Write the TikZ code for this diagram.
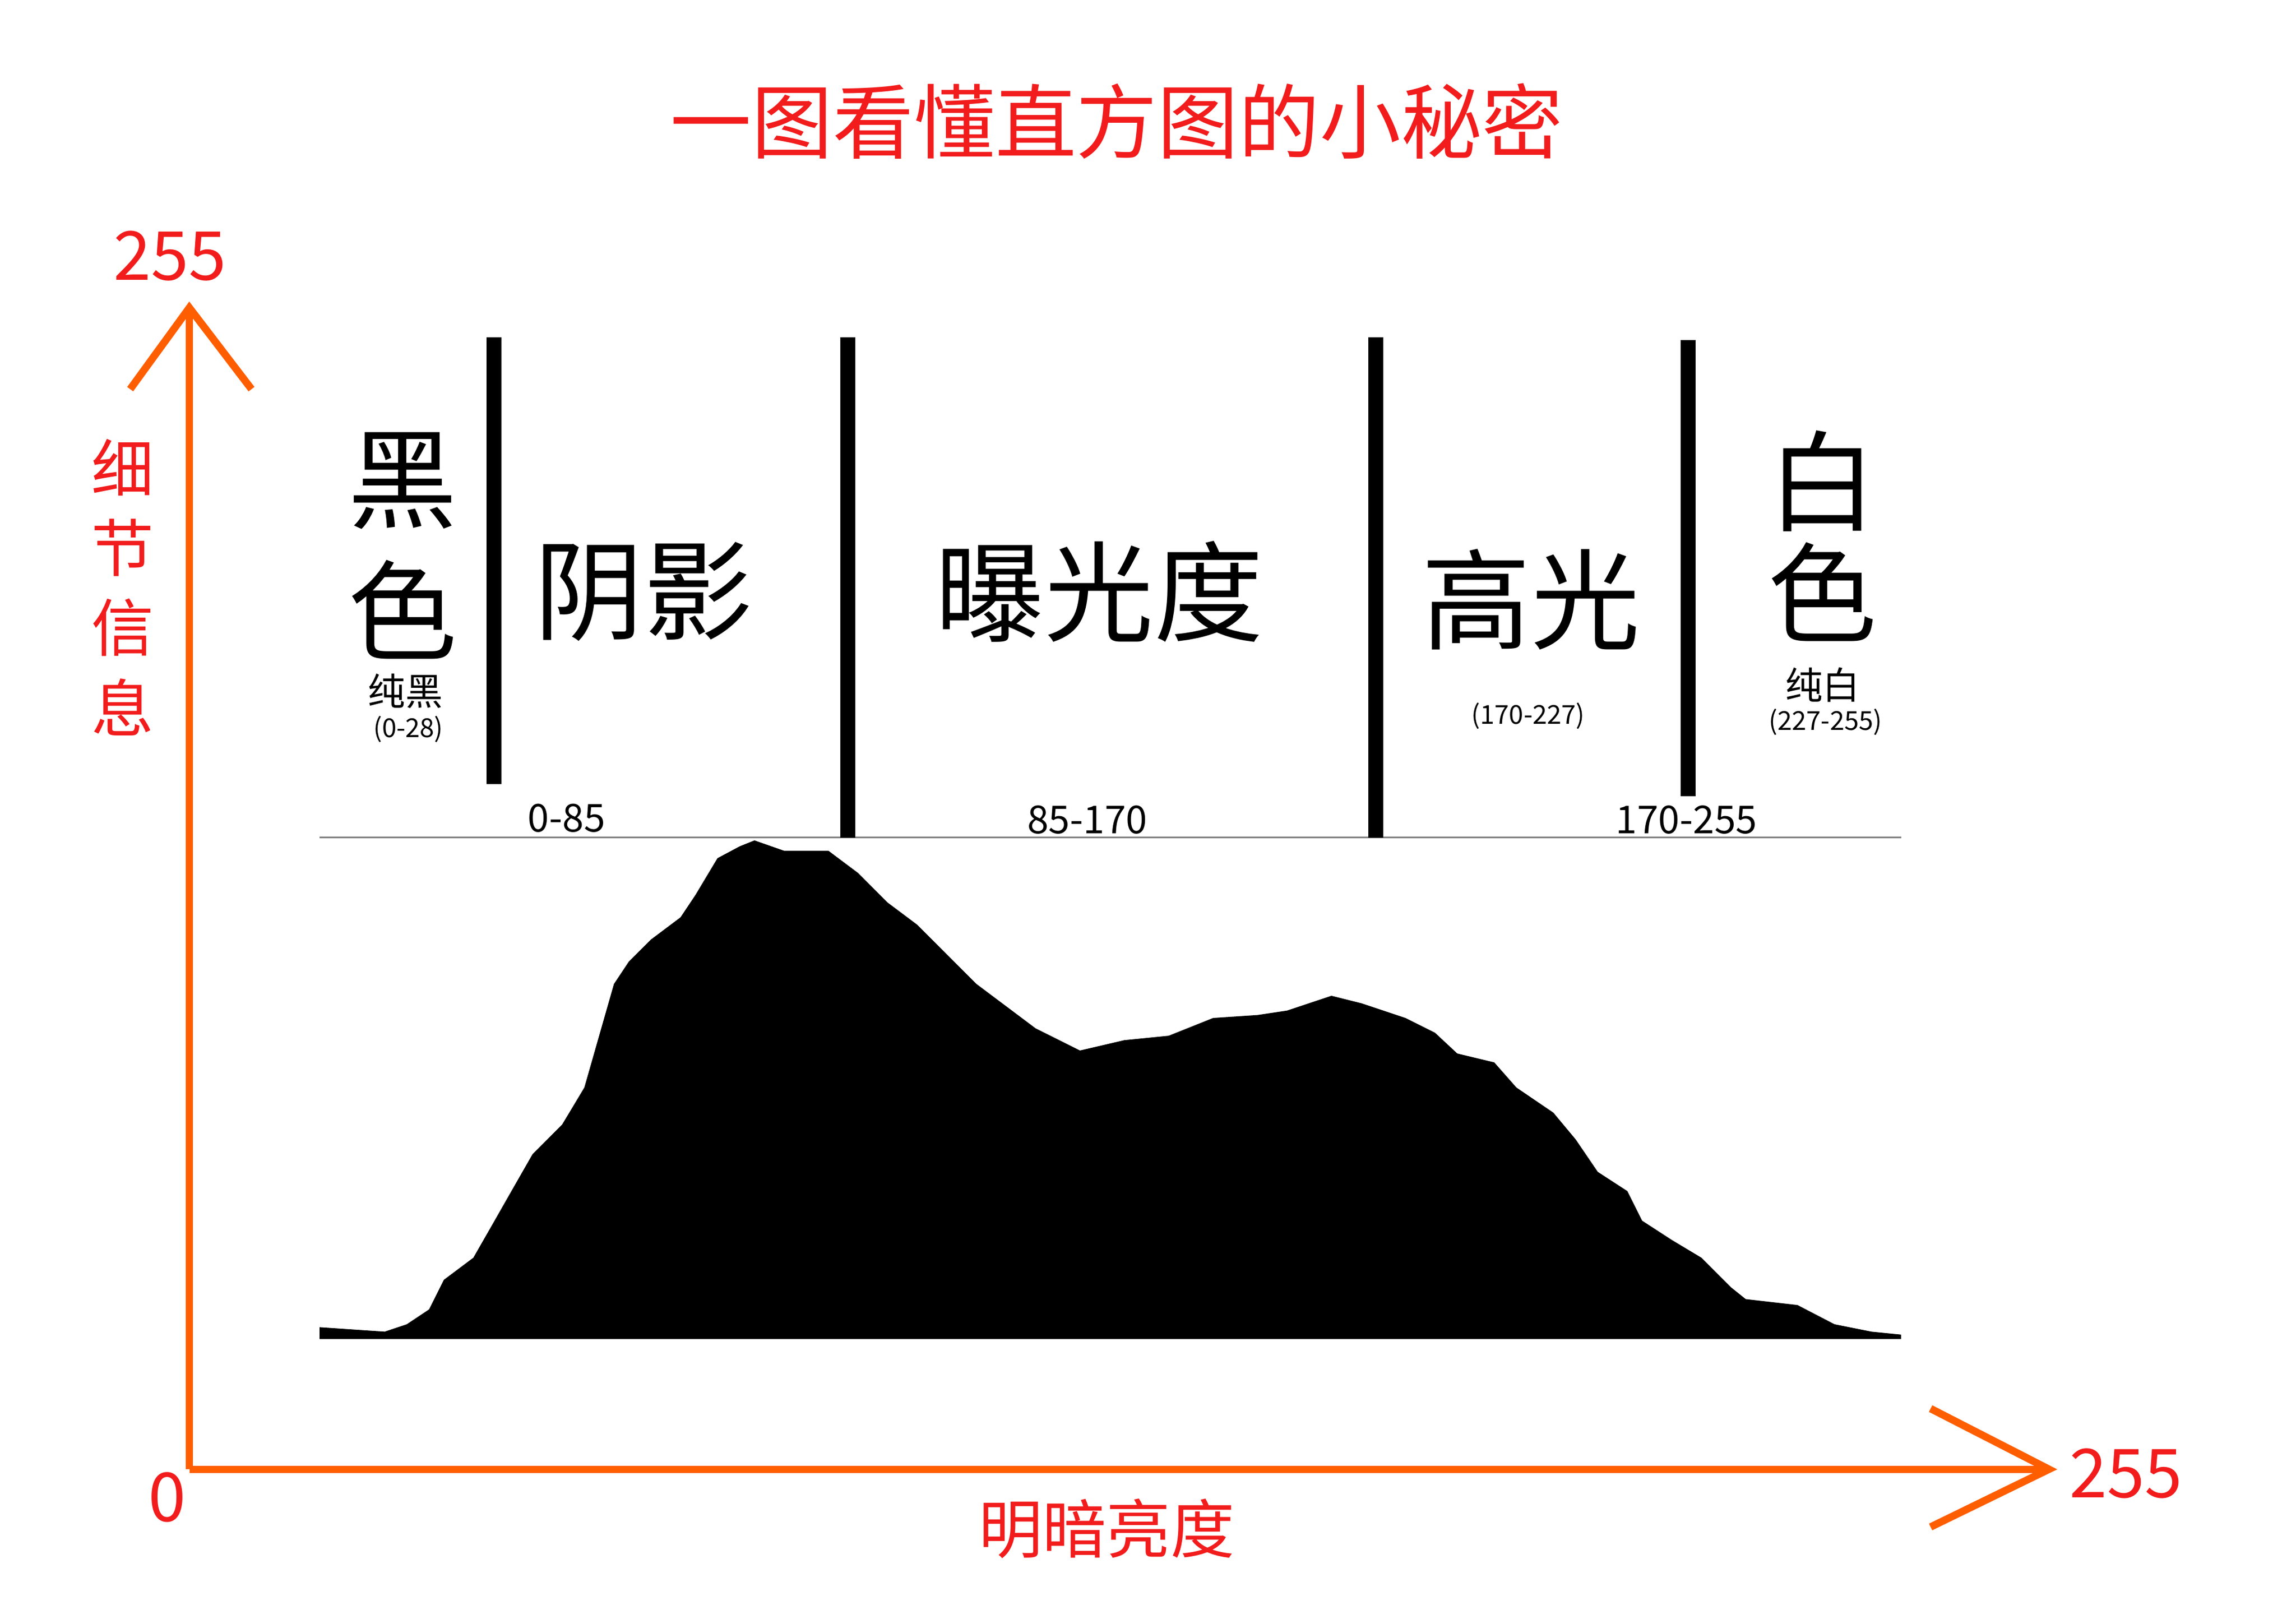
\documentclass[tikz,border=0pt]{standalone}
\usepackage{fontspec}
\setmainfont{Noto Sans CJK SC}
\usetikzlibrary{calc}
\definecolor{axisorange}{HTML}{FF5E00}
\definecolor{labelred}{HTML}{F21C1C}
\tikzset{
  axisline/.style={draw=axisorange, line width=0.05cm, line cap=butt},
  divider/.style={draw=black, line width=0.1cm},
  bigtext/.style={font=\fontsize{21}{22}\selectfont, inner sep=0pt},
  smalltext/.style={font=\fontsize{7.2}{8}\selectfont, inner sep=0pt},
  tinytext/.style={font=\fontsize{5}{6}\selectfont, inner sep=0pt},
  rangetext/.style={font=\fontsize{7.4}{8}\selectfont, inner sep=0pt},
  redtext/.style={text=labelred, inner sep=0pt},
  numtext/.style={redtext, font=\fontsize{13}{14}\selectfont}
}
\begin{document}
\begin{tikzpicture}[x=0.01cm, y=-0.01cm]
    \useasboundingbox [fill=white] (0,0) rectangle (1552,1094);
    % title
    \node (title) at (755,82) [redtext, font=\fontsize{15.6}{16}\selectfont] {一图看懂直方图的小秘密};
    % axes
    \coordinate (origin) at (128,993);
    \coordinate (ytip) at (128,208);
    \coordinate (xtip) at (1385,993);
    \draw [axisline] (origin) -- (ytip);
    \draw [axisline] (origin) -- (xtip);
    \draw [axisline, line join=miter] (88,263) -- (ytip) -- (170,263);
    \draw [axisline, line join=miter] (1305,952) -- (xtip) -- (1305,1032);
    \node (ymax) at (115,173) [numtext] {255};
    \node (zero) at (113,1012) [numtext] {0};
    \node (xmax) at (1437,996) [numtext] {255};
    \node (xlabel) at (748,1033) [redtext, font=\fontsize{12.3}{13}\selectfont] {明暗亮度};
    \foreach \ch [count=\i] in {细,节,信,息}
        \node (ylabel\i) at (83,262+54*\i) [redtext, font=\fontsize{12}{13}\selectfont] {\ch};
    % histogram
    \fill [black] (216,905) -- (216,897) -- (260,900) -- (275,895) -- (290,885) -- (300,865)
        -- (320,850) -- (340,815) -- (360,780) -- (380,760) -- (395,735) -- (405,700)
        -- (415,665) -- (425,650) -- (440,635) -- (460,620) -- (470,605) -- (485,580)
        -- (500,572) -- (510,568) -- (530,575) -- (560,575) -- (580,590) -- (600,610)
        -- (620,625) -- (640,645) -- (660,665) -- (680,680) -- (700,695) -- (720,705)
        -- (730,710) -- (760,703) -- (790,700) -- (820,688) -- (850,686) -- (870,683)
        -- (900,673) -- (920,678) -- (950,688) -- (970,698) -- (985,712) -- (1010,718)
        -- (1025,735) -- (1050,752) -- (1065,770) -- (1080,792) -- (1100,805) -- (1110,825)
        -- (1130,838) -- (1150,850) -- (1170,870) -- (1180,878) -- (1215,882) -- (1240,895)
        -- (1265,900) -- (1285,902) -- (1285,905) -- cycle;
    \draw [gray, line width=0.01cm] (216,566) -- (1285,566);
    % dividers
    \draw [divider] (334,228) -- (334,530);
    \draw [divider] (573,228) -- (573,566);
    \draw [divider] (930,228) -- (930,566);
    \draw [divider] (1141,230) -- (1141,538);
    % zone labels
    \node (black1) at (272,325) [bigtext] {黑};
    \node (black2) at (272,412) [bigtext] {色};
    \node (pureblack) at (274,467) [smalltext] {纯黑};
    \node (blackrange) at (276,493) [tinytext] {(0-28)};
    \node (shadow) at (435,400) [bigtext] {阴影};
    \node (exposure) at (743,400) [bigtext] {曝光度};
    \node (highlight) at (1035,405) [bigtext] {高光};
    \node (highrange) at (1033,484) [tinytext] {(170-227)};
    \node (white1) at (1232,325) [bigtext] {白};
    \node (white2) at (1232,400) [bigtext] {色};
    \node (purewhite) at (1232,463) [smalltext] {纯白};
    \node (whiterange) at (1234,488) [tinytext] {(227-255)};
    \node (range1) at (383,553) [rangetext] {0-85};
    \node (range2) at (735,554) [rangetext] {85-170};
    \node (range3) at (1140,554) [rangetext] {170-255};
\end{tikzpicture}
\end{document}
